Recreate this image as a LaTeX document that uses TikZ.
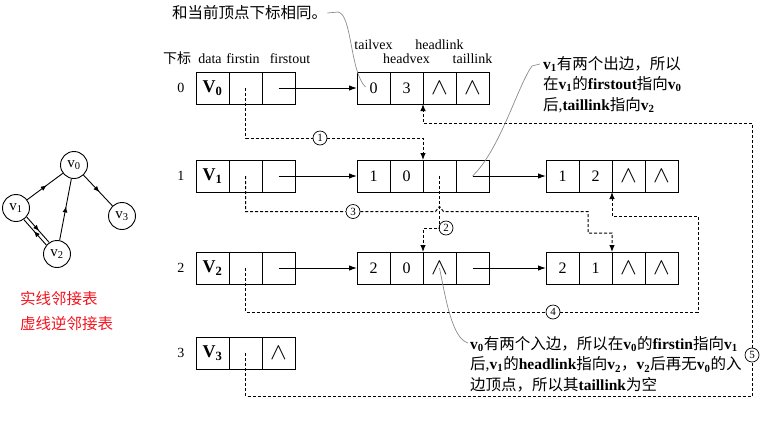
\documentclass[tikz,border=0pt]{standalone}
\usepackage{graphicx}
\usepackage{fontspec}
\setmainfont{Liberation Serif}
\newfontfamily\cjk{Noto Sans CJK SC}
\usepackage{xcolor}
\usepackage{tikz}
\usetikzlibrary{arrows.meta,positioning,calc,decorations.markings}
\definecolor{hilo}{HTML}{8C8C8C}
\definecolor{rojo}{HTML}{F5141E}
\newcommand{\zh}[1]{{\cjk #1}}
\newcommand{\vx}[1]{\textbf{v}\textsubscript{\textbf{#1}}}
\newcommand{\Vx}[1]{{\fontsize{18}{18}\selectfont\textbf{V}\textsubscript{\textbf{#1}}}}
\newcommand{\nil}{\scalebox{1.45}[1.35]{$\wedge$}}

\begin{document}
\begin{tikzpicture}[x=1pt,y=-1pt, cell/.style={draw,line width=1pt,minimum width=33pt,minimum height=32pt,inner sep=0pt,outer sep=0pt,font=\fontsize{16}{16}\selectfont}, hdr/.style={font=\fontsize{14}{15}\selectfont}, note/.style={inner sep=0pt,align=left,font=\fontsize{15.5}{20.5}\selectfont}, num/.style={draw,circle,line width=0.7pt,minimum size=14pt,inner sep=0pt,fill=white,font=\fontsize{11}{11}\selectfont}, vert/.style={draw,circle,line width=0.9pt,minimum size=27pt,inner sep=0pt,font=\fontsize{15}{15}\selectfont}, arr/.style={-{Latex[length=8pt,width=5.5pt]},line width=1pt}, rev/.style={-{Latex[length=7pt,width=5.5pt]},line width=1pt,densely dashed}, mid/.style={line width=0.9pt,postaction={decorate},decoration={markings,mark=at position 0.55 with {\arrow{Latex[length=6pt,width=5pt]}}}}, pointer/.style={draw=hilo,line width=0.7pt}]
\useasboundingbox (0,0) rectangle (776,432);
% graph
\node[vert] (v0) at (74,165) {v\textsubscript{0}};
\node[vert] (v1) at (16,208) {v\textsubscript{1}};
\node[vert] (v2) at (57,254) {v\textsubscript{2}};
\node[vert] (v3) at (122,216) {v\textsubscript{3}};
\draw[mid] (v1) -- (v0); \draw[mid] (v0) -- (v3); \draw[mid] (v2) -- (v0);
\draw[mid] (v1.-40) -- (v2.124); \draw[mid] (v2.140) -- (v1.-56);
\node[note,anchor=north west,text=rojo,font=\cjk\fontsize{15.5}{25}\selectfont] (key) at (20,291) {实线邻接表\\虚线逆邻接表};
% vertex table
\node[hdr,anchor=base] (h0) at (177,63) {\zh{下标}};
\node[hdr,anchor=base] (h1) at (210,63) {data};
\node[hdr,anchor=base] (h2) at (243,63) {firstin};
\node[hdr,anchor=base] (h3) at (290,63) {firstout};
\node[cell] (d0) at (212.5,88) {\Vx{0}}; \node[cell,right=0pt of d0] (in0) {}; \node[cell,right=0pt of in0] (out0) {};
\node[cell] (d1) at (212.5,176) {\Vx{1}}; \node[cell,right=0pt of d1] (in1) {}; \node[cell,right=0pt of in1] (out1) {};
\node[cell] (d2) at (212.5,268) {\Vx{2}}; \node[cell,right=0pt of d2] (in2) {}; \node[cell,right=0pt of in2] (out2) {};
\node[cell] (d3) at (212.5,353) {\Vx{3}}; \node[cell,right=0pt of d3] (in3) {}; \node[cell,right=0pt of in3] (out3) {\nil};
\node[hdr,left=8pt of d0] (i0) {0}; \node[hdr,left=8pt of d1] (i1) {1};
\node[hdr,left=8pt of d2] (i2) {2}; \node[hdr,left=8pt of d3] (i3) {3};
% arc nodes
\node[cell] (e03tv) at (373.5,88) {0}; \node[cell,right=0pt of e03tv] (e03hv) {3};
\node[cell,right=0pt of e03hv] (e03hl) {\nil}; \node[cell,right=0pt of e03hl] (e03tl) {\nil};
\node[cell] (e10tv) at (373.5,176) {1}; \node[cell,right=0pt of e10tv] (e10hv) {0};
\node[cell,right=0pt of e10hv] (e10hl) {}; \node[cell,right=0pt of e10hl] (e10tl) {};
\node[cell] (e12tv) at (562.5,176) {1}; \node[cell,right=0pt of e12tv] (e12hv) {2};
\node[cell,right=0pt of e12hv] (e12hl) {\nil}; \node[cell,right=0pt of e12hl] (e12tl) {\nil};
\node[cell] (e20tv) at (373.5,268) {2}; \node[cell,right=0pt of e20tv] (e20hv) {0};
\node[cell,right=0pt of e20hv] (e20hl) {\nil}; \node[cell,right=0pt of e20hl] (e20tl) {};
\node[cell] (e21tv) at (562.5,268) {2}; \node[cell,right=0pt of e21tv] (e21hv) {1};
\node[cell,right=0pt of e21hv] (e21hl) {\nil}; \node[cell,right=0pt of e21hl] (e21tl) {\nil};
\node[hdr,above=19pt of e03tv] (h4) {tailvex}; \node[hdr,above=5pt of e03hv] (h5) {headvex};
\node[hdr,above=19pt of e03hl] (h6) {headlink}; \node[hdr,above=5pt of e03tl] (h7) {taillink};
% adjacency (solid)
\draw[arr] (out0.center) -- (e03tv); \draw[arr] (out1.center) -- (e10tv); \draw[arr] (e10tl.center) -- (e12tv);
\draw[arr] (out2.center) -- (e20tv); \draw[arr] (e20tl.center) -- (e21tv);
% inverse adjacency (dashed)
\node[num] (n1) at (320,138) {1}; \node[num] (n2) at (446,228) {2}; \node[num] (n3) at (353,211.5) {3};
\node[num] (n4) at (553,312) {4}; \node[num] (n5) at (752,355) {5};
\coordinate (b3) at (588,233); \coordinate (b4) at (698,216);
\coordinate (b5) at (752,396); \coordinate (c5) at (752,123);
\draw[rev] (in0.center) |- (n1) -| (e10hl.north west);
\draw[rev] (e10hl.center) |- (n2.west) -| (e20hl.north west);
\draw[rev] (in1.center) |- (n3) -- ($(n3-|e10hl.center)+(-4,0)$) -- ++(4,-5) -- ++(4,5) -| (b3) -| (e21hl.north west);
\draw[rev] (in2.center) |- (n4) -| (b4) -| (e12hl.south west);
\draw[rev] (in3.center) |- (b5) -- (n5) -- (c5) -| (e03hl.south west);
% notes
\node[note,anchor=west] (same) at (172,13) {\zh{和当前顶点下标相同。}};
\node[note,anchor=north west] (why1) at (543,56) {\vx{1}\zh{有两个出边，所以}\\\zh{在}\vx{1}\zh{的}\textbf{firstout}\zh{指向}\vx{0}\\\zh{后},\textbf{taillink}\zh{指向}\vx{2}};
\node[note,anchor=north west] (why0) at (470,336) {\vx{0}\zh{有两个入边，所以在}\vx{0}\zh{的}\textbf{firstin}\zh{指向}\vx{1}\\\zh{后},\vx{1}\zh{的}\textbf{headlink}\zh{指向}\vx{2}\zh{，}\vx{2}\zh{后再无}\vx{0}\zh{的入}\\\zh{边顶点，所以其}\textbf{taillink}\zh{为空}};
\draw[pointer] (same.east) -- (338,12) .. controls (352,14) and (350,72) .. ($(e03tv.center)+(-8,-1)$);
\draw[pointer] ($(why1.north west)+(-3,8)$) -- ++(-8,2) .. controls (518,85) and (500,150) .. (e10tl.center);
\draw[pointer] ($(why0.north west)+(-2,7)$) .. controls (452,338) and (446,300) .. (e20hl.center);
\end{tikzpicture}
\end{document}
